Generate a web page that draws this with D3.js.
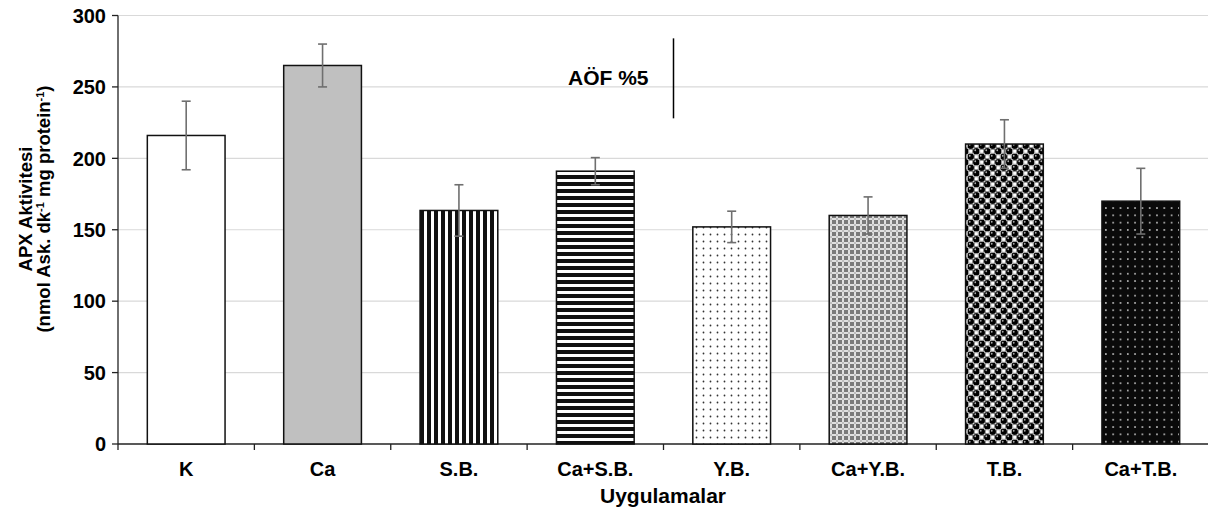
<!DOCTYPE html>
<html>
<head>
<meta charset="utf-8">
<script src="https://cdn.jsdelivr.net/npm/d3@7"></script>
<style>
  body { margin: 0; background: #fff; }
  text { font-family: "Liberation Sans", Arial, sans-serif; font-weight: bold; fill: #000; }
</style>
</head>
<body>
<div id="chart"></div>
<script>
//--------------------------------- Data ---------------------------------
var categories = ["K", "Ca", "S.B.", "Ca+S.B.", "Y.B.", "Ca+Y.B.", "T.B.", "Ca+T.B."];
var means = [216, 265, 163.5, 191, 152, 160, 210, 170];
var errors = [24, 15, 18, 9.5, 11, 13, 17, 23];
var fills = ["white", "gray", "vstripe", "hstripe", "sparseDots", "checker", "spheres", "blackDots"];
var yTicks = [0, 50, 100, 150, 200, 250, 300];
var lsdValue = 56, lsdTop = 284, lsdLabel = "AÖF %5";

//--------------------------------- Setup ---------------------------------
var width = 1208, height = 510;
var margin = {top: 15.5, right: -1, bottom: 66, left: 118};

var svg = d3.select("#chart").append("svg")
	.attr("width", width)
	.attr("height", height);

var x = d3.scaleBand()
	.domain(categories)
	.range([margin.left, width - margin.right])
	.paddingInner(0.43)
	.paddingOuter(0.215);

var y = d3.scaleLinear()
	.domain([0, 300])
	.range([height - margin.bottom, margin.top]);

//--------------------------------- Patterns ---------------------------------
var defs = svg.append("defs");

var p = defs.append("pattern").attr("id", "vstripe").attr("patternUnits", "userSpaceOnUse")
	.attr("width", 7).attr("height", 7);
p.append("rect").attr("width", 7).attr("height", 7).attr("fill", "#fff");
p.append("rect").attr("width", 4).attr("height", 7).attr("fill", "#111");

p = defs.append("pattern").attr("id", "hstripe").attr("patternUnits", "userSpaceOnUse")
	.attr("width", 7).attr("height", 7);
p.append("rect").attr("width", 7).attr("height", 7).attr("fill", "#fff");
p.append("rect").attr("width", 7).attr("height", 4).attr("fill", "#111");

p = defs.append("pattern").attr("id", "sparseDots").attr("patternUnits", "userSpaceOnUse")
	.attr("width", 7).attr("height", 7);
p.append("rect").attr("width", 7).attr("height", 7).attr("fill", "#fff");
p.append("circle").attr("cx", 3.5).attr("cy", 3.5).attr("r", 0.9).attr("fill", "#333");

p = defs.append("pattern").attr("id", "checker").attr("patternUnits", "userSpaceOnUse")
	.attr("width", 6).attr("height", 6);
p.append("rect").attr("width", 6).attr("height", 6).attr("fill", "#7a7a7a");
p.append("rect").attr("x", 2).attr("y", 0).attr("width", 2).attr("height", 6).attr("fill", "#e0e0e0");
p.append("rect").attr("x", 0).attr("y", 2).attr("width", 6).attr("height", 2).attr("fill", "#e0e0e0");
p.append("rect").attr("x", 2.5).attr("y", 2.5).attr("width", 1).attr("height", 1).attr("fill", "#555");

p = defs.append("pattern").attr("id", "spheres").attr("patternUnits", "userSpaceOnUse")
	.attr("width", 11).attr("height", 11);
p.append("rect").attr("width", 11).attr("height", 11).attr("fill", "#fff");
[[2.75, 2.75], [8.25, 8.25]].forEach(function(c) {
	p.append("circle").attr("cx", c[0]).attr("cy", c[1]).attr("r", 3.3).attr("fill", "#000");
	p.append("circle").attr("cx", c[0] - 1).attr("cy", c[1] - 1).attr("r", 0.9).attr("fill", "#aaa");
});
[[8.25, 2.75], [2.75, 8.25]].forEach(function(c) {
	p.append("rect").attr("x", c[0] - 2).attr("y", c[1] - 2).attr("width", 4).attr("height", 4)
		.attr("fill", "none").attr("stroke", "#666").attr("stroke-width", 0.8);
});

p = defs.append("pattern").attr("id", "blackDots").attr("patternUnits", "userSpaceOnUse")
	.attr("width", 7.3).attr("height", 7.3);
p.append("rect").attr("width", 7.3).attr("height", 7.3).attr("fill", "#0a0a0a");
p.append("circle").attr("cx", 3.6).attr("cy", 3.6).attr("r", 0.9).attr("fill", "#ccc");

function fillFor(f) {
	if (f === "white") return "#fff";
	if (f === "gray") return "#c0c0c0";
	return "url(#" + f + ")";
}

//--------------------------------- Grid + axes ---------------------------------
svg.append("g").selectAll("line")
	.data(yTicks.filter(function(d) { return d > 0; }))
	.enter().append("line")
	.attr("x1", margin.left).attr("x2", width)
	.attr("y1", function(d) { return y(d); })
	.attr("y2", function(d) { return y(d); })
	.attr("stroke", "#d9d9d9").attr("stroke-width", 1.2);

// y axis
var yAxis = svg.append("g");
yAxis.append("line")
	.attr("x1", margin.left).attr("x2", margin.left)
	.attr("y1", y(0)).attr("y2", y(300))
	.attr("stroke", "#222").attr("stroke-width", 1.3);
yAxis.selectAll(".yt").data(yTicks).enter().append("line")
	.attr("x1", margin.left - 6).attr("x2", margin.left)
	.attr("y1", function(d) { return y(d); })
	.attr("y2", function(d) { return y(d); })
	.attr("stroke", "#222").attr("stroke-width", 1.3);
yAxis.selectAll("text").data(yTicks).enter().append("text")
	.attr("x", margin.left - 12)
	.attr("y", function(d) { return y(d); })
	.attr("dy", "0.36em")
	.attr("text-anchor", "end")
	.style("font-size", "20px")
	.text(function(d) { return d; });

// x axis
var xAxis = svg.append("g");
xAxis.append("line")
	.attr("x1", margin.left).attr("x2", width)
	.attr("y1", y(0)).attr("y2", y(0))
	.attr("stroke", "#222").attr("stroke-width", 1.3);
var step = x.step();
xAxis.selectAll(".xt").data(categories).enter().append("line")
	.attr("x1", function(d) { return x(d) + x.bandwidth() / 2 - step / 2; })
	.attr("x2", function(d) { return x(d) + x.bandwidth() / 2 - step / 2; })
	.attr("y1", y(0)).attr("y2", y(0) + 6)
	.attr("stroke", "#222").attr("stroke-width", 1.3);
xAxis.selectAll("text").data(categories).enter().append("text")
	.attr("x", function(d) { return x(d) + x.bandwidth() / 2; })
	.attr("y", y(0) + 32)
	.attr("text-anchor", "middle")
	.style("font-size", "20px")
	.text(function(d) { return d; });

//--------------------------------- Bars ---------------------------------
svg.append("g").selectAll("rect")
	.data(categories)
	.enter().append("rect")
	.attr("x", function(d) { return x(d); })
	.attr("width", x.bandwidth())
	.attr("y", function(d, i) { return y(means[i]); })
	.attr("height", function(d, i) { return y(0) - y(means[i]); })
	.attr("fill", function(d, i) { return fillFor(fills[i]); })
	.attr("stroke", "#111").attr("stroke-width", 1.5);

//--------------------------------- Error bars ---------------------------------
var eb = svg.append("g").attr("stroke", "#6f6f6f").attr("stroke-width", 1.6);
categories.forEach(function(d, i) {
	var cx = x(d) + x.bandwidth() / 2;
	eb.append("line").attr("x1", cx).attr("x2", cx)
		.attr("y1", y(means[i] + errors[i])).attr("y2", y(means[i] - errors[i]));
	[means[i] + errors[i], means[i] - errors[i]].forEach(function(v) {
		eb.append("line").attr("x1", cx - 4.5).attr("x2", cx + 4.5)
			.attr("y1", y(v)).attr("y2", y(v));
	});
});

//--------------------------------- LSD marker ---------------------------------
var lsdX = x("Y.B.") - (step - x.bandwidth()) / 2 + 10;
svg.append("line")
	.attr("x1", lsdX).attr("x2", lsdX)
	.attr("y1", y(lsdTop)).attr("y2", y(lsdTop - lsdValue))
	.attr("stroke", "#000").attr("stroke-width", 1.5);
svg.append("text")
	.attr("x", lsdX - 25)
	.attr("y", 85)
	.attr("text-anchor", "end")
	.style("font-size", "21px")
	.text(lsdLabel);

//--------------------------------- Axis titles ---------------------------------
svg.append("text")
	.attr("x", (margin.left + width) / 2)
	.attr("y", 503)
	.attr("text-anchor", "middle")
	.style("font-size", "21px")
	.text("Uygulamalar");

var yt = svg.append("text")
	.attr("transform", "translate(0,209) rotate(-90)")
	.attr("text-anchor", "middle")
	.style("font-size", "18.5px");
yt.append("tspan").attr("x", 0).attr("y", 32).text("APX Aktivitesi");
var l2 = yt.append("tspan").attr("x", 0).attr("y", 50);
l2.append("tspan").text("(nmol Ask. dk");
l2.append("tspan").attr("dy", -6).style("font-size", "11px").text("-1");
l2.append("tspan").attr("dy", 6).text(" mg protein");
l2.append("tspan").attr("dy", -6).style("font-size", "11px").text("-1");
l2.append("tspan").attr("dy", 6).text(")");
</script>
</body>
</html>
